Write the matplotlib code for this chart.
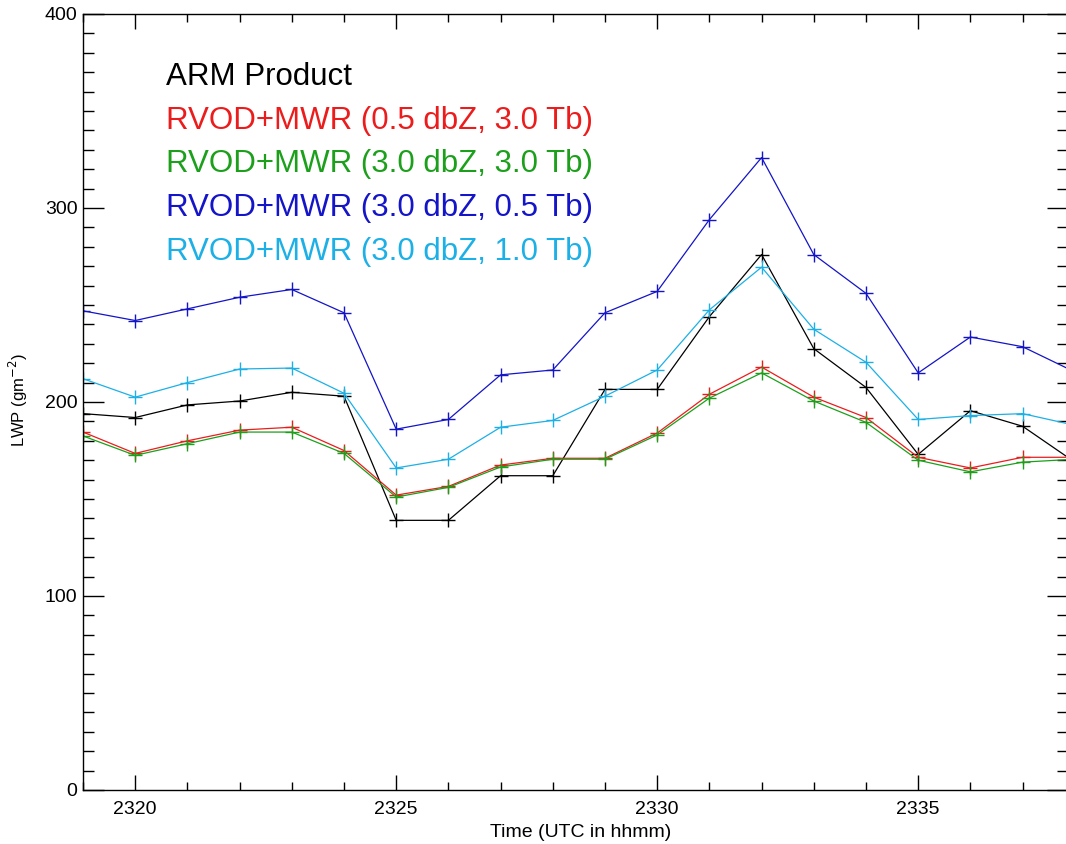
import numpy as np
import matplotlib
matplotlib.use('Agg')
import matplotlib.pyplot as plt
from matplotlib.ticker import MultipleLocator

plt.rcParams['font.family'] = ['Liberation Sans', 'DejaVu Sans']

# time in hhmm (one point per minute)
times = [2319, 2320, 2321, 2322, 2323, 2324, 2325, 2326, 2327, 2328,
         2329, 2330, 2331, 2332, 2333, 2334, 2335, 2336, 2337, 2338]

# LWP values
arm_lwp = [194, 192, 198.5, 200.5, 205, 203, 139, 139, 162, 162,
           206.5, 206.5, 244, 276, 227.5, 207.5, 173, 195.5, 187.5, 169]
red_lwp = [184.5, 173.5, 180, 185.5, 187, 175, 152, 156.5, 167.5, 171,
           171, 184, 204, 218, 202.5, 192, 171.5, 166, 171.5, 171.5]
green_lwp = [182.5, 172.5, 178.5, 184.5, 184.5, 173.5, 151, 156, 166.5, 170.5,
             170.5, 183, 202, 215, 200.5, 189.5, 170, 164, 169, 170.5]
blue_lwp = [247, 242, 248, 254, 258, 246, 186, 191, 214, 216.5,
            246, 257, 294, 326, 276, 256, 215, 233.5, 228.5, 215.5]
cyan_lwp = [212, 202.5, 210, 217, 217.5, 204.5, 166, 170.5, 187, 190.5,
            203, 216.5, 247.5, 269.5, 237.5, 220.5, 191, 193, 194, 188]

labels = ['ARM Product',
          'RVOD+MWR (0.5 dbZ, 3.0 Tb)',
          'RVOD+MWR (3.0 dbZ, 3.0 Tb)',
          'RVOD+MWR (3.0 dbZ, 0.5 Tb)',
          'RVOD+MWR (3.0 dbZ, 1.0 Tb)']
colors = ['black', '#ec1c1c', '#1ca01c', '#1414c8', '#1cb0e6']
series = [arm_lwp, red_lwp, green_lwp, blue_lwp, cyan_lwp]

fig = plt.figure(figsize=(10.66, 8.44), dpi=100)
# right edge of the box sits just past the image border (cropped in the original)
ax = fig.add_axes([83/1066, 1-790/844, (1068-83)/1066, (790-14)/844])

for vals, col in zip(series, colors):
    ax.plot(times, vals, color=col, lw=0.9, marker='+', ms=10, mew=1.0)

ax.set_xlim(2319.0, 2337.87)
ax.set_ylim(0, 400)
ax.xaxis.set_major_locator(MultipleLocator(5))
ax.xaxis.set_minor_locator(MultipleLocator(1))
ax.yaxis.set_major_locator(MultipleLocator(100))
ax.yaxis.set_minor_locator(MultipleLocator(10))
ax.tick_params(axis='x', which='major', direction='in', length=11, width=1,
               top=True, labelsize=14, pad=8)
ax.tick_params(axis='x', which='minor', direction='in', length=5.5, width=1, top=True)
ax.tick_params(axis='y', which='major', direction='in', length=15, width=1,
               right=True, labelsize=14, pad=4)
ax.tick_params(axis='y', which='minor', direction='in', length=8, width=1, right=True)
for sp in ax.spines.values():
    sp.set_linewidth(1.0)

fig.text(18/1066, 1-400/844, 'LWP (gm$^{-2}$)', rotation=90, fontsize=12,
         ha='center', va='center')
fig.text(581/1066, 1-837/844, 'Time (UTC in hhmm)', fontsize=14,
         ha='center', va='baseline')

# legend as coloured text lines
for i, (lab, col) in enumerate(zip(labels, colors)):
    fig.text(166/1066, 1-(85 + 43.7*i)/844, lab, color=col, fontsize=22.5,
             ha='left', va='baseline')

fig.savefig('out.png', dpi=100)
